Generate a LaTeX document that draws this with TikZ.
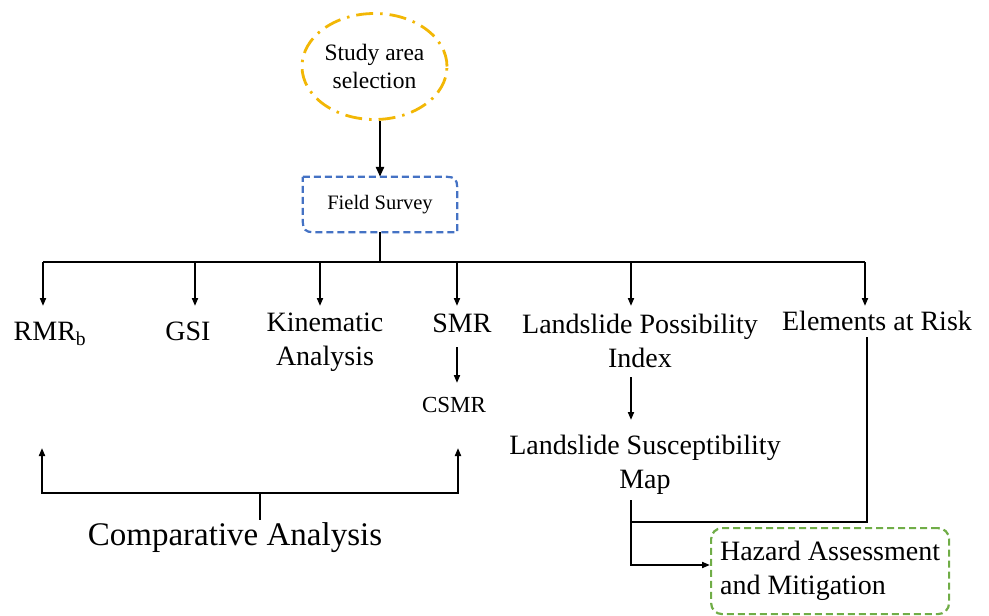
\documentclass[tikz,border=0pt]{standalone}
\usepackage{fontspec}
\setmainfont{Liberation Serif}
\usetikzlibrary{arrows.meta,shapes.geometric}
\definecolor{gold}{RGB}{242,183,5}
\definecolor{fsblue}{RGB}{68,114,196}
\definecolor{hzgreen}{RGB}{112,173,71}
\begin{document}
\begin{tikzpicture}[x=1pt,y=-1pt,
  lbl/.style={inner sep=0pt, align=center, font=\fontsize{28}{34}\selectfont, anchor=base},
  conn/.style={line width=1.8pt, black},
  arr/.style={conn, -{Triangle[length=8pt,width=6pt]}},
  thickarr/.style={line width=2.8pt, -{Triangle[length=10pt,width=8pt]}},
  ellbox/.style={ellipse, draw=gold, line width=2.8pt, dash pattern=on 17pt off 7pt on 2.5pt off 7pt,
     minimum width=145pt, minimum height=106pt, inner sep=0pt, align=center,
     font=\fontsize{23.5}{28}\selectfont},
  fsbox/.style={draw=fsblue, line width=2.2pt, dash pattern=on 7pt off 4pt},
  hzbox/.style={draw=hzgreen, line width=2.2pt, dash pattern=on 7pt off 4pt, rounded corners=11pt,
     minimum width=238pt, minimum height=86pt, anchor=north west, align=left,
     inner sep=0pt, font=\fontsize{28}{34}\selectfont},
]
\useasboundingbox (0,0) rectangle (989,616);

% top
\node[ellbox] (sa) at (374.5,66.5) {Study area\\selection};
\node[minimum width=154pt, minimum height=55pt, inner sep=0pt, font=\fontsize{20.5}{24}\selectfont] (fs) at (380,204.5) {Field Survey};
\draw[fsbox] (fs.north west) -- ([xshift=-10pt]fs.north east) .. controls ([xshift=-3pt]fs.north east) and ([yshift=-3pt]fs.north east) .. ([yshift=-10pt]fs.north east)
   -- (fs.south east) -- ([xshift=10pt]fs.south west) .. controls ([xshift=3pt]fs.south west) and ([yshift=3pt]fs.south west) .. ([yshift=10pt]fs.south west) -- cycle;
\draw[thickarr] (fs.north |- sa.south) -- (fs.north);

% labels (for two-line labels the base anchor is the last line)
\node[lbl] (rmr) at (50,340) {RMR\textsubscript{b}};
\node[lbl] (gsi) at (188,340) {GSI};
\node[lbl] (kin) at (325,365) {Kinematic\\Analysis};
\node[lbl] (smr) at (462,332) {SMR};
\node[lbl, font=\fontsize{23}{28}\selectfont] (csmr) at (454,412) {CSMR};
\node[lbl] (lpi) at (640,367) {Landslide Possibility\\Index};
\node[lbl] (ear) at (877,330) {Elements at Risk};
\node[lbl] (lsm) at (645,488) {Landslide Susceptibility\\Map};
\node[lbl, font=\fontsize{33}{40}\selectfont] (comp) at (235,545) {Comparative Analysis};
\node[hzbox] (haz) at (710,527) {Hazard Assessment\\and Mitigation};

% bus from field survey
\coordinate (busL) at (43,262);
\coordinate (busR) at (865,262);
\draw[line width=2.8pt] (fs.south) -- (fs.south |- busL);
\draw[conn] (busL) -- (busR);
\coordinate (t1) at (43,306);
\coordinate (t2) at (195,306);
\coordinate (t3) at (320,306);
\coordinate (t4) at (457,306);
\coordinate (t5) at (631,306);
\coordinate (t6) at (865,306);
\foreach \t in {t1,t2,t3,t4,t5,t6} { \draw[arr] (busL -| \t) -- (\t); }

% SMR -> CSMR
\coordinate (smrB) at (457,347);
\coordinate (csmrT) at (457,383);
\draw[arr] (smrB) -- (csmrT);

% LPI -> LSM
\coordinate (lpiB) at (631,377);
\coordinate (lsmT) at (631,420);
\draw[arr] (lpiB) -- (lsmT);

% LSM -> Hazard, Elements -> join
\coordinate (lsmB) at (631,500);
\coordinate (hazIn) at (710,565);
\coordinate (earB) at (867,337);
\coordinate (join) at (631,522);
\draw[conn] (earB) -- (earB |- join) -- (join);
\draw[arr] (lsmB) -- (lsmB |- hazIn) -- (hazIn);

% comparative analysis
\coordinate (caL) at (42,448);
\coordinate (caR) at (458,448);
\coordinate (caBus) at (260,493);
\coordinate (caStub) at (260,520);
\draw[arr] (caBus) -- (caBus -| caL) -- (caL);
\draw[arr] (caBus) -- (caBus -| caR) -- (caR);
\draw[line width=2.2pt] (caBus) -- (caStub);
\end{tikzpicture}
\end{document}
